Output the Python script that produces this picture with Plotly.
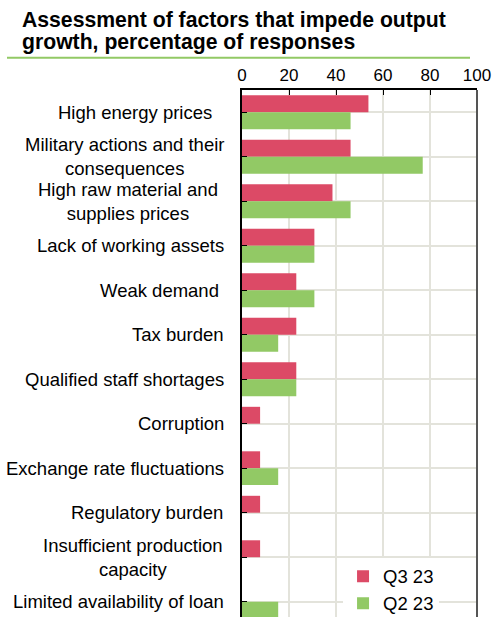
import plotly.graph_objects as go

categories = [
    "High energy prices",
    "Military actions and their<br>consequences",
    "High raw material and<br>supplies prices",
    "Lack of working assets",
    "Weak demand",
    "Tax burden",
    "Qualified staff shortages",
    "Corruption",
    "Exchange rate fluctuations",
    "Regulatory burden",
    "Insufficient production<br>capacity",
    "Limited availability of loan",
]
q3_23 = [53.8, 46.2, 38.5, 30.8, 23.1, 23.1, 23.1, 7.7, 7.7, 7.7, 7.7, 0]
q2_23 = [46.2, 76.9, 46.2, 30.8, 30.8, 15.4, 23.1, 0, 15.4, 0, 0, 15.4]
x_ticks = [0, 20, 40, 60, 80, 100]
title_lines = ["Assessment of factors that impede output",
               "growth, percentage of responses"]

RED = "#DC4A66"
GREEN = "#92C965"
FONT = "Liberation Sans, Arial, sans-serif"

W, H = 492, 623
L, R, T, B = 242, 15, 90, 0
PW, PH = W - L - R, H - T - B

def px_x(x):
    return (x - L) / PW

def px_y(y):
    return (H - B - y) / PH

# label right-edge offsets (styling only)
label_shift = [-28, -16, -22, -16, -21, -16, -16, -16, -16, -17, -17, -16]

fig = go.Figure()
fig.add_trace(go.Bar(
    y=list(range(len(categories))), x=q3_23, name="Q3 23", orientation="h",
    marker=dict(color=RED, line=dict(width=0)),
))
fig.add_trace(go.Bar(
    y=list(range(len(categories))), x=q2_23, name="Q2 23", orientation="h",
    marker=dict(color=GREEN, line=dict(width=0)),
))

for i, (lab, sh) in enumerate(zip(categories, label_shift)):
    fig.add_annotation(
        x=0, xref="paper", y=i, yref="y", text=lab, showarrow=False,
        xanchor="right", yanchor="middle", align="center", xshift=sh,
        font=dict(family=FONT, size=18.5, color="#000000"),
    )

for txt, yc in zip(title_lines, [19.5, 41.5]):
    fig.add_annotation(
        x=px_x(20), xref="paper", y=px_y(yc), yref="paper",
        text="<b>%s</b>" % txt, showarrow=False,
        xanchor="left", yanchor="middle", align="left",
        font=dict(family=FONT, size=21.2, color="#000000"),
    )

fig.update_layout(
    width=W, height=H,
    margin=dict(l=L, r=R, t=T, b=B),
    paper_bgcolor="white", plot_bgcolor="white",
    barmode="group", bargap=0.24, bargroupgap=0,
    font=dict(family=FONT, size=17, color="#000000"),
    showlegend=True,
    legend=dict(
        x=0.43, y=px_y(563), xanchor="left", yanchor="top",
        bgcolor="white", font=dict(family=FONT, size=18.5, color="#000000"),
        traceorder="normal", itemwidth=30, tracegroupgap=0,
    ),
    xaxis=dict(
        side="top", range=[0, 100], tickvals=x_ticks,
        showgrid=True, gridcolor="#E3E3DB", gridwidth=2,
        showline=True, linecolor="#000000", linewidth=1.5,
        ticks="inside", ticklen=5, tickcolor="#000000",
        zeroline=False, fixedrange=True,
        tickfont=dict(family=FONT, size=17, color="#000000"),
    ),
    yaxis=dict(
        range=[11.344, -0.5], tickvals=list(range(len(categories))),
        ticktext=[""] * len(categories), tickson="boundaries",
        showgrid=True, gridcolor="#E3E3DB", gridwidth=2,
        showline=True, linecolor="#000000", linewidth=1.5,
        ticks="inside", ticklen=5, tickcolor="#000000",
        zeroline=False, fixedrange=True,
    ),
    shapes=[
        dict(type="line", xref="paper", yref="paper", x0=1, x1=1, y0=0, y1=1,
             line=dict(color="#555555", width=2)),
        dict(type="line", xref="paper", yref="paper",
             x0=px_x(7), x1=px_x(470), y0=px_y(57.5), y1=px_y(57.5),
             line=dict(color=GREEN, width=2)),
    ],
)

fig.write_html("out.html", config={"displayModeBar": False},
               post_script="document.body.style.margin='0px';")
